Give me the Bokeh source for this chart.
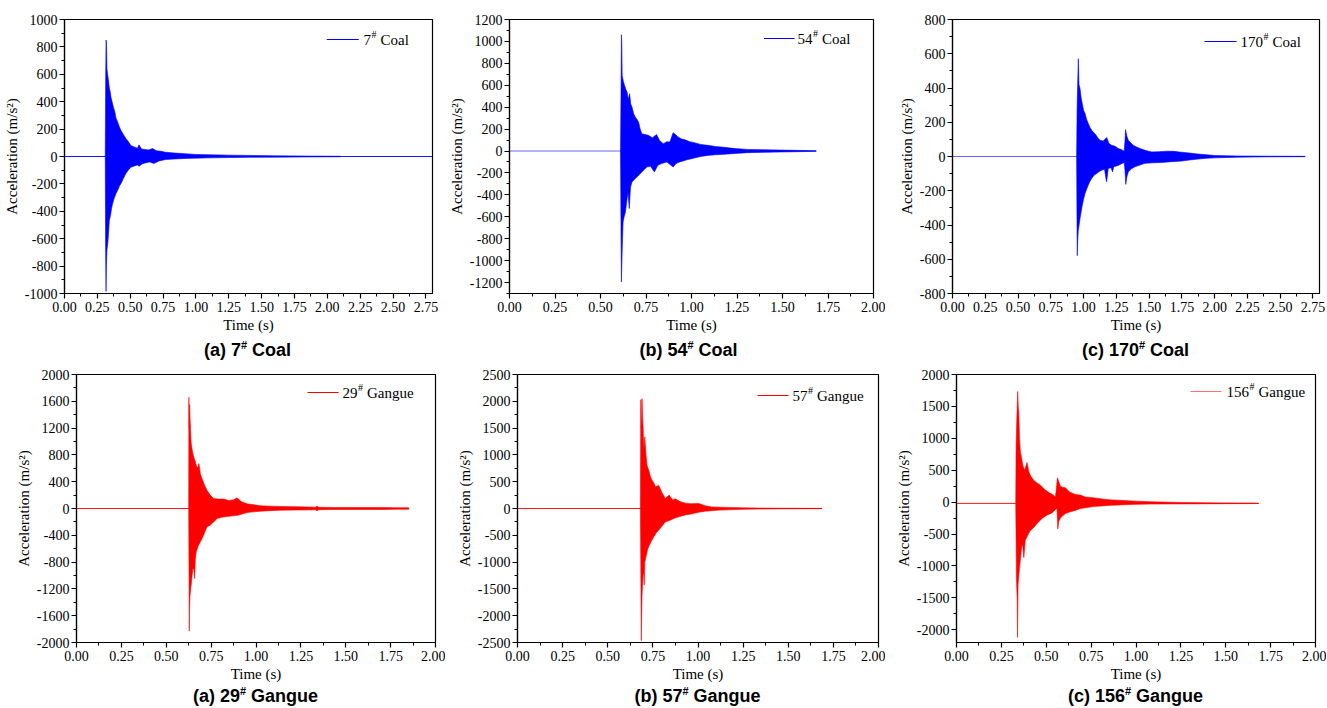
from bokeh.plotting import figure
from bokeh.models import Range1d, SingleIntervalTicker, PrintfTickFormatter, Label, Div
from bokeh.layouts import column, row
from bokeh.embed import file_html
from bokeh.resources import INLINE

BLUE = "#0000FF"
RED = "#FF0000"

# ---------------- data (envelopes) ----------------
# (a) 7# Coal
coal7_t_up = [0.310, 0.313, 0.316, 0.319, 0.323, 0.328, 0.334, 0.341, 0.348, 0.354, 0.362, 0.372, 0.382, 0.392,
              0.405, 0.418, 0.430, 0.448, 0.467, 0.485, 0.505, 0.530, 0.555, 0.567, 0.585, 0.610, 0.640, 0.670,
              0.700, 0.735, 0.770, 0.840, 0.920, 1.00, 1.10, 1.25, 1.40, 1.60, 1.85, 2.10]
coal7_a_up = [0, 520, 850, 830, 640, 600, 560, 500, 470, 430, 400, 360, 330, 280, 250, 215, 190, 160, 131, 110,
              80, 70, 60, 85, 55, 52, 48, 58, 42, 38, 31, 25, 20, 15, 13, 10, 8, 5, 3, 2]
coal7_t_lo = [0.310, 0.313, 0.316, 0.319, 0.323, 0.329, 0.335, 0.341, 0.350, 0.358, 0.366, 0.380, 0.392, 0.404,
              0.418, 0.430, 0.448, 0.467, 0.485, 0.505, 0.530, 0.555, 0.567, 0.590, 0.620, 0.650, 0.680, 0.720,
              0.770, 0.840, 0.920, 1.00, 1.10, 1.25, 1.40, 1.60, 1.85, 2.10]
coal7_a_lo = [0, -700, -985, -790, -680, -637, -560, -467, -430, -380, -343, -300, -270, -248, -215, -197, -160,
              -124, -100, -78, -70, -62, -72, -55, -45, -40, -51, -32, -22, -18, -14, -12, -10, -8, -6, -5, -3, -2]
coal7_rec_t = [0.0, 2.80]
coal7_rec_a = [0, 0]

# (b) 54# Coal
coal54_t_up = [0.610, 0.613, 0.615, 0.617, 0.619, 0.625, 0.632, 0.640, 0.646, 0.653, 0.660, 0.666, 0.673, 0.682,
               0.691, 0.700, 0.709, 0.718, 0.727, 0.745, 0.763, 0.785, 0.808, 0.825, 0.845, 0.865, 0.881, 0.899,
               0.912, 0.926, 0.945, 0.962, 0.990, 1.016, 1.050, 1.089, 1.130, 1.179, 1.240, 1.306, 1.400, 1.486,
               1.580, 1.685]
coal54_a_up = [0, 600, 1061, 979, 690, 640, 600, 560, 538, 470, 523, 430, 401, 340, 310, 290, 265, 200, 158, 150,
               143, 120, 150, 95, 67, 85, 82, 167, 150, 128, 110, 104, 85, 76, 60, 52, 42, 34, 22, 15, 12, 9, 6, 3]
coal54_t_lo = [0.610, 0.613, 0.615, 0.618, 0.621, 0.624, 0.630, 0.637, 0.645, 0.651, 0.658, 0.665, 0.673, 0.686,
               0.700, 0.714, 0.727, 0.740, 0.754, 0.775, 0.796, 0.815, 0.835, 0.865, 0.899, 0.915, 0.935, 0.975,
               1.016, 1.050, 1.089, 1.130, 1.179, 1.240, 1.306, 1.400, 1.486, 1.580, 1.685]
coal54_a_lo = [0, -800, -1194, -981, -800, -647, -600, -556, -450, -374, -525, -330, -283, -260, -237, -215, -191,
               -170, -146, -140, -191, -130, -115, -100, -146, -115, -100, -80, -64, -50, -40, -35, -30, -22, -15,
               -12, -9, -6, -3]
coal54_rec_t = [0.0, 1.685]
coal54_rec_a = [0, 0]

# (c) 170# Coal
coal170_t_up = [0.947, 0.951, 0.955, 0.960, 0.965, 0.973, 0.982, 0.990, 1.000, 1.011, 1.024, 1.036, 1.049, 1.062,
                1.077, 1.092, 1.108, 1.125, 1.150, 1.176, 1.195, 1.214, 1.240, 1.264, 1.290, 1.310, 1.316, 1.320,
                1.330, 1.341, 1.360, 1.379, 1.405, 1.430, 1.475, 1.519, 1.575, 1.633, 1.690, 1.747, 1.810, 1.874,
                1.940, 2.000, 2.100, 2.176, 2.400, 2.690]
coal170_a_up = [0, 300, 426, 571, 420, 396, 340, 309, 270, 251, 215, 192, 170, 153, 140, 128, 110, 95, 90, 111, 75,
                66, 60, 47, 40, 31, 90, 157, 120, 95, 80, 66, 55, 47, 35, 27, 28, 31, 30, 25, 20, 14, 10, 6, 4, 3,
                2, 1]
coal170_t_lo = [0.947, 0.950, 0.952, 0.956, 0.960, 0.966, 0.973, 0.982, 0.990, 1.000, 1.011, 1.024, 1.036, 1.049,
                1.062, 1.080, 1.100, 1.120, 1.138, 1.160, 1.171, 1.176, 1.188, 1.210, 1.221, 1.230, 1.264, 1.290,
                1.310, 1.316, 1.322, 1.330, 1.341, 1.365, 1.392, 1.430, 1.468, 1.530, 1.595, 1.670, 1.747, 1.810,
                1.874, 1.940, 2.000, 2.100, 2.176, 2.400, 2.690]
coal170_a_lo = [0, -400, -579, -480, -430, -400, -362, -320, -284, -250, -216, -190, -167, -145, -128, -110, -99,
                -88, -80, -75, -130, -148, -70, -65, -90, -60, -52, -42, -35, -80, -163, -120, -90, -72, -60, -50,
                -40, -37, -35, -30, -27, -20, -15, -10, -8, -6, -4, -2, -1]
coal170_rec_t = [0.0, 2.69]
coal170_rec_a = [0, 0]

# (a) 29# Gangue
gangue29_t_up = [0.625, 0.626, 0.628, 0.630, 0.634, 0.638, 0.643, 0.650, 0.656, 0.662, 0.667, 0.675, 0.682, 0.690,
                 0.699, 0.713, 0.727, 0.745, 0.764, 0.790, 0.820, 0.848, 0.875, 0.894, 0.920, 0.950, 0.990, 1.024,
                 1.080, 1.136, 1.240, 1.330, 1.340, 1.350, 1.433, 1.550, 1.712, 1.780, 1.851]
gangue29_a_up = [0, 1660, 1200, 1550, 1257, 1000, 895, 800, 745, 700, 646, 600, 671, 520, 447, 350, 273, 200, 149,
                 140, 140, 120, 130, 159, 100, 70, 55, 40, 35, 30, 25, 20, 35, 18, 15, 15, 15, 12, 10]
gangue29_t_lo = [0.625, 0.627, 0.628, 0.630, 0.632, 0.636, 0.639, 0.644, 0.649, 0.654, 0.658, 0.662, 0.667, 0.678,
                 0.690, 0.699, 0.708, 0.727, 0.745, 0.764, 0.783, 0.810, 0.838, 0.870, 0.900, 0.950, 1.024, 1.136,
                 1.240, 1.330, 1.340, 1.350, 1.433, 1.550, 1.712, 1.780, 1.851]
gangue29_a_lo = [0, -1000, -1830, -1500, -1317, -1200, -1143, -1000, -895, -900, -1044, -750, -646, -560, -497,
                 -450, -400, -273, -249, -200, -150, -130, -120, -110, -100, -60, -40, -25, -22, -20, -35, -18, -15,
                 -15, -15, -12, -10]
gangue29_rec_t = [0.0, 1.851]
gangue29_rec_a = [0, 0]

# (b) 57# Gangue
gangue57_t_up = [0.681, 0.683, 0.686, 0.688, 0.690, 0.693, 0.696, 0.700, 0.705, 0.709, 0.712, 0.718, 0.727, 0.736,
                 0.745, 0.755, 0.765, 0.782, 0.800, 0.819, 0.840, 0.860, 0.875, 0.900, 0.930, 0.960, 1.004, 1.040,
                 1.077, 1.120, 1.170, 1.250, 1.340, 1.446, 1.560, 1.686]
gangue57_a_up = [0, 2030, 1500, 1700, 2050, 1700, 1503, 1100, 1335, 1150, 994, 800, 714, 600, 528, 480, 400, 435,
                 300, 186, 250, 160, 180, 130, 100, 90, 93, 50, 30, 25, 20, 12, 8, 5, 4, 3]
gangue57_t_lo = [0.681, 0.684, 0.686, 0.688, 0.690, 0.693, 0.697, 0.700, 0.702, 0.705, 0.709, 0.714, 0.722, 0.731,
                 0.743, 0.755, 0.770, 0.782, 0.800, 0.819, 0.845, 0.870, 0.893, 0.930, 0.967, 1.004, 1.040, 1.077,
                 1.120, 1.170, 1.250, 1.340, 1.446, 1.560, 1.686]
gangue57_a_lo = [0, -1500, -2466, -2000, -1615, -1400, -1180, -1250, -1429, -1000, -950, -870, -750, -683, -600,
                 -528, -450, -404, -330, -250, -220, -180, -155, -120, -100, -70, -50, -40, -30, -25, -15, -10, -6,
                 -4, -3]
gangue57_rec_t = [0.0, 1.686]
gangue57_rec_a = [0, 0]

# (c) 156# Gangue
gangue156_t_up = [0.330, 0.332, 0.336, 0.341, 0.344, 0.347, 0.351, 0.356, 0.362, 0.369, 0.380, 0.393, 0.403, 0.415,
                  0.430, 0.448, 0.468, 0.490, 0.514, 0.535, 0.551, 0.556, 0.562, 0.570, 0.579, 0.593, 0.607, 0.630,
                  0.662, 0.690, 0.718, 0.760, 0.811, 0.860, 0.904, 1.000, 1.089, 1.250, 1.460, 1.683]
gangue156_a_up = [-20, 900, 1300, 1734, 1500, 1411, 1000, 786, 700, 578, 500, 620, 474, 400, 344, 300, 266, 200, 150,
                  120, 80, 200, 380, 320, 250, 230, 224, 160, 120, 110, 80, 70, 50, 35, 30, 15, 5, -5, -12, -17]
gangue156_t_lo = [0.330, 0.334, 0.338, 0.340, 0.343, 0.347, 0.351, 0.356, 0.362, 0.368, 0.375, 0.383, 0.393, 0.410,
                  0.430, 0.450, 0.477, 0.505, 0.532, 0.550, 0.560, 0.564, 0.570, 0.579, 0.593, 0.607, 0.635, 0.662,
                  0.690, 0.718, 0.760, 0.811, 0.860, 0.904, 1.000, 1.089, 1.250, 1.460, 1.683]
gangue156_a_lo = [-20, -1200, -1500, -2120, -1297, -1150, -1036, -900, -724, -650, -870, -600, -542, -450, -400,
                  -330, -255, -200, -170, -120, -100, -422, -300, -250, -210, -180, -150, -130, -100, -90, -70, -60,
                  -50, -45, -35, -30, -28, -25, -22]
gangue156_rec_t = [0.0, 1.683]
gangue156_rec_a = [-20, -20]

# axis settings (ranges / tick steps) and labels
x_ranges = [(0, 2.80), (0, 2.00), (0, 2.80), (0, 2.00), (0, 2.00), (0, 2.00)]
y_ranges = [(-1000, 1000), (-1300, 1200), (-800, 800), (-2000, 2000), (-2500, 2500), (-2200, 2000)]
y_steps = [200, 200, 200, 400, 500, 500]
legend_nums = ["7", "54", "170", "29", "57", "156"]
legend_names = ["Coal", "Coal", "Coal", "Gangue", "Gangue", "Gangue"]
sub_letters = ["(a)", "(b)", "(c)", "(a)", "(b)", "(c)"]

signals = [
    (coal7_t_up, coal7_a_up, coal7_t_lo, coal7_a_lo, coal7_rec_t, coal7_rec_a),
    (coal54_t_up, coal54_a_up, coal54_t_lo, coal54_a_lo, coal54_rec_t, coal54_rec_a),
    (coal170_t_up, coal170_a_up, coal170_t_lo, coal170_a_lo, coal170_rec_t, coal170_rec_a),
    (gangue29_t_up, gangue29_a_up, gangue29_t_lo, gangue29_a_lo, gangue29_rec_t, gangue29_rec_a),
    (gangue57_t_up, gangue57_a_up, gangue57_t_lo, gangue57_a_lo, gangue57_rec_t, gangue57_rec_a),
    (gangue156_t_up, gangue156_a_up, gangue156_t_lo, gangue156_a_lo, gangue156_rec_t, gangue156_rec_a),
]
colors = [BLUE, BLUE, BLUE, RED, RED, RED]
base_alpha = [0.9, 0.6, 0.6, 0.9, 0.9, 0.9]
legend_alpha = [1.0, 1.0, 1.0, 1.0, 1.0, 0.55]

# ---------------- layout geometry (page has no margin) ----------------
col_w = [445, 440, 441, 445, 440, 441]
fig_h = [337, 337, 337, 323, 323, 323]
cap_h = [26, 26, 26, 21, 21, 21]
b_left = [63, 59, 67, 76, 72, 71]
b_right = [13, 12, 7, 10, 7, 11]
b_top = [19, 19, 19, 11, 11, 11]
b_bottom = 44
# legend placement: (line start, line end, text start) px left of frame right; px below frame top
leg_pos = [(106, 74, 69, 20), (111, 80, 76, 19), (115, 83, 79, 22),
           (128, 97, 93, 18), (121, 90, 86, 21), (125, 94, 89, 17)]

SERIF = "Liberation Serif"


def make_panel(i):
    x0, x1 = x_ranges[i]
    y0, y1 = y_ranges[i]
    W, H = col_w[i], fig_h[i]
    fw = W - b_left[i] - b_right[i]
    fh = H - b_top[i] - b_bottom
    p = figure(width=W, height=H, x_range=Range1d(x0, x1), y_range=Range1d(y0, y1),
               output_backend="svg", toolbar_location=None,
               min_border_left=b_left[i], min_border_right=b_right[i],
               min_border_top=b_top[i], min_border_bottom=b_bottom)
    p.xgrid.visible = False
    p.ygrid.visible = False
    p.outline_line_color = "black"
    p.outline_line_alpha = 1.0
    p.outline_line_width = 1.2
    p.background_fill_color = "white"
    p.border_fill_color = "white"

    p.xaxis.ticker = SingleIntervalTicker(interval=0.25, num_minor_ticks=2)
    p.yaxis.ticker = SingleIntervalTicker(interval=y_steps[i], num_minor_ticks=2)
    p.xaxis.formatter = PrintfTickFormatter(format="%.2f")
    p.yaxis.formatter = PrintfTickFormatter(format="%d")
    p.xaxis.axis_label = "Time (s)"
    p.yaxis.axis_label = "Acceleration (m/s\u00b2)"
    for ax in (p.xaxis, p.yaxis):
        ax.axis_line_color = "black"
        ax.axis_line_width = 1.2
        ax.major_tick_line_color = "black"
        ax.minor_tick_line_color = "black"
        ax.major_tick_line_width = 1.2
        ax.minor_tick_line_width = 1
        ax.major_tick_in = 0
        ax.major_tick_out = 5
        ax.minor_tick_in = 0
        ax.minor_tick_out = 3
        ax.major_label_text_font = SERIF
        ax.major_label_text_font_size = "14px"
        ax.major_label_text_color = "black"
        ax.major_label_standoff = 2
        ax.axis_label_text_font = SERIF
        ax.axis_label_text_font_size = "15px"
        ax.axis_label_text_font_style = "normal"
        ax.axis_label_text_color = "black"
        ax.axis_label_standoff = 2
    p.xaxis.major_label_standoff = 3

    t_up, a_up, t_lo, a_lo, rec_t, rec_a = signals[i]
    c = colors[i]
    p.line(x=rec_t, y=rec_a, line_color=c, line_width=1, line_alpha=base_alpha[i])
    p.patch(x=list(t_up) + list(t_lo)[::-1], y=list(a_up) + list(a_lo)[::-1],
            fill_color=c, line_color=c, line_width=0.6)

    # legend (custom, to allow superscript "#")
    ls, le, ts, dy = leg_pos[i]
    sx = (x1 - x0) / fw
    sy = (y1 - y0) / fh
    ly = y1 - dy * sy
    p.segment(x0=[x1 - ls * sx], y0=[ly], x1=[x1 - le * sx], y1=[ly],
              line_color=c, line_width=1.2, line_alpha=legend_alpha[i])
    num = legend_nums[i]
    nw = 7.5 * len(num)
    p.add_layout(Label(x=x1, y=y1, x_offset=-ts, y_offset=-dy, text=num,
                       text_font=SERIF, text_font_size="15px", text_baseline="middle",
                       text_align="left", text_color="black"))
    p.add_layout(Label(x=x1, y=y1, x_offset=-ts + nw + 0.5, y_offset=-dy + 5, text="#",
                       text_font=SERIF, text_font_size="10px", text_baseline="middle",
                       text_align="left", text_color="black"))
    p.add_layout(Label(x=x1, y=y1, x_offset=-ts + nw + 9.5, y_offset=-dy, text=legend_names[i],
                       text_font=SERIF, text_font_size="15px", text_baseline="middle",
                       text_align="left", text_color="black"))
    return p, fw


def make_caption(i, fw, h):
    html = (
        f'<div style="margin-left:{b_left[i]}px;width:{fw}px;text-align:center;'
        f'font-family:\'Liberation Sans\',Arial,sans-serif;font-weight:bold;font-size:18px;'
        f'line-height:{h}px;color:black;white-space:nowrap;">'
        f'{sub_letters[i]} {legend_nums[i]}'
        f'<span style="font-size:11px;position:relative;top:-7px;">#</span> {legend_names[i]}</div>'
    )
    return Div(text=html, width=col_w[i], height=h, margin=0)


figs = []
caps = []
for i in range(6):
    p, fw = make_panel(i)
    figs.append(p)
    caps.append(make_caption(i, fw, cap_h[i]))

layout = column(
    row(figs[0], figs[1], figs[2]),
    row(caps[0], caps[1], caps[2]),
    row(figs[3], figs[4], figs[5]),
    row(caps[3], caps[4], caps[5]),
)

open("out.html", "w").write(file_html(layout, INLINE, title="Acceleration signals"))
